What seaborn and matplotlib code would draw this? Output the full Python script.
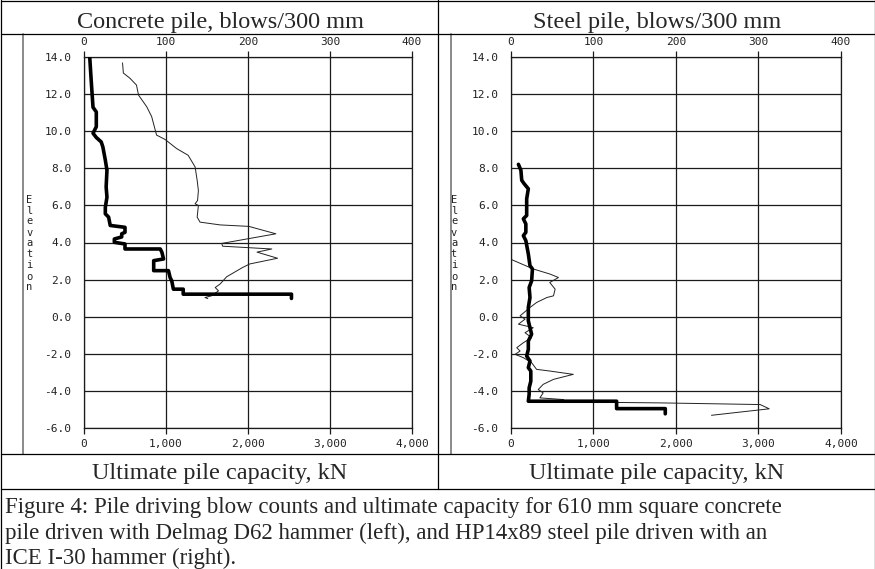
"""
Pile driving records - blow counts and ultimate capacity vs elevation.
Two panels laid out as a table (header row, charts, label row, caption).
"""

import matplotlib
matplotlib.use('Agg')
import matplotlib.pyplot as plt
from matplotlib.lines import Line2D
import pandas as pd
import seaborn as sns

# ==========================================
# 1. DATA
# ==========================================
# Concrete pile: blow counts (blows/300 mm) vs elevation
conc_blows = [7, 9, 11, 15, 15, 11, 15, 21, 23, 26, 28, 27, 28, 26, 26, 30, 32,
              50, 50, 46, 46, 37, 37, 50, 50, 93, 95, 97, 85, 85, 103, 105, 107,
              109, 121, 121, 253, 253]
conc_blow_elev = [14.0, 12.6, 11.3, 11.05, 10.25, 9.9, 9.67, 9.43, 9.16, 8.45, 7.9,
                  7.0, 6.45, 5.9, 5.55, 5.37, 4.92, 4.82, 4.55, 4.47, 4.3, 4.19,
                  4.01, 3.92, 3.65, 3.65, 3.47, 3.11, 3.02, 2.48, 2.48, 2.11, 1.93,
                  1.48, 1.48, 1.21, 1.21, 0.98]

# Concrete pile: ultimate capacity (kN) vs elevation
conc_cap = [470, 480, 560, 640, 665, 765, 825, 885, 990, 1130, 1270, 1355, 1380,
            1395, 1385, 1355, 1395, 1380, 1415, 1660, 2010, 2340, 1680, 1690, 2290,
            2110, 2360, 2020, 1930, 1740, 1660, 1600, 1640, 1555, 1475, 1510]
conc_cap_elev = [13.7, 13.15, 12.87, 12.5, 11.96, 11.33, 10.8, 9.8, 9.56, 9.07,
                 8.71, 8.08, 7.36, 6.8, 6.27, 6.09, 6.0, 5.37, 5.1, 4.95, 4.87,
                 4.47, 3.95, 3.8, 3.65, 3.48, 3.15, 2.84, 2.64, 2.15, 1.76, 1.57,
                 1.39, 1.12, 1.03, 0.97]

# Steel pile: blow counts vs elevation
steel_blows = [9, 12, 13, 16, 21, 19, 19, 15, 18, 18, 15, 18, 21, 23, 26, 25, 22,
               23, 21, 21, 23, 25, 21, 21, 19, 23, 21, 24, 24, 22, 22, 21, 128,
               128, 187, 187]
steel_blow_elev = [8.22, 7.9, 7.36, 7.17, 6.9, 6.36, 5.46, 5.28, 5.0, 4.55, 4.37,
                   4.1, 3.38, 2.75, 2.57, 1.93, 1.57, 1.03, 0.49, -0.23, -0.6,
                   -0.95, -1.32, -1.77, -2.13, -2.4, -2.76, -2.94, -3.49, -3.85,
                   -4.2, -4.57, -4.57, -4.97, -4.97, -5.25]

# Steel pile: ultimate capacity (kN) vs elevation
steel_cap = [10, 270, 470, 575, 470, 535, 515, 435, 310, 230, 110, 170, 90, 270,
             170, 250, 150, 70, 110, 50, 150, 250, 310, 470, 755, 515, 390, 330,
             390, 350, 635, 655, 1805, 3020, 3130, 2430]
steel_cap_elev = [3.07, 2.57, 2.3, 2.11, 1.84, 1.48, 1.12, 1.03, 0.76, 0.49, 0.04,
                  -0.14, -0.41, -0.6, -0.87, -1.14, -1.41, -1.68, -1.86, -2.04,
                  -2.22, -2.49, -2.85, -2.94, -3.12, -3.39, -3.66, -3.94, -4.12,
                  -4.39, -4.48, -4.61, -4.66, -4.75, -4.98, -5.33]

blow_ticks = [0, 100, 200, 300, 400]
cap_ticks = [0, 1000, 2000, 3000, 4000]
cap_labels = ['0', '1,000', '2,000', '3,000', '4,000']
elev_ticks = [-6, -4, -2, 0, 2, 4, 6, 8, 10, 12, 14]

headers = ['Concrete pile, blows/300 mm', 'Steel pile, blows/300 mm']
bottom_label = 'Ultimate pile capacity, kN'
caption = ['Figure 4: Pile driving blow counts and ultimate capacity for 610 mm square concrete',
           'pile driven with Delmag D62 hammer (left), and HP14x89 steel pile driven with an',
           'ICE I-30 hammer (right).']

# ==========================================
# 2. STYLE
# ==========================================
sns.set_style('white')
plt.rcParams['font.family'] = ['Liberation Serif', 'DejaVu Serif']

W, H = 875, 569
fig = plt.figure(figsize=(W / 100, H / 100), dpi=100)
fig.patch.set_facecolor('white')


def fx(px):
    return px / W


def fy(py):
    return 1 - py / H


MONO = 'DejaVu Sans Mono'
GRID = '#1a1a1a'
TICK_LEN = 4.5


def draw_panel(left_px, right_px, blows, blow_elev, cap, cap_elev, gray_px, label_px):
    top_px, bot_px = 57.3, 427.7
    ax = fig.add_axes([fx(left_px), fy(bot_px), (right_px - left_px) / W, (bot_px - top_px) / H])
    ax.set_xlim(0, 4000)
    ax.set_ylim(-6, 14)
    ax.set_facecolor('none')

    # capacity line (thin) on the bottom axis
    df_cap = pd.DataFrame({'cap': cap, 'elev': cap_elev})
    sns.lineplot(data=df_cap, x='cap', y='elev', sort=False, estimator=None,
                 color='#222222', linewidth=0.7, ax=ax)

    ax.set_xticks(cap_ticks)
    ax.set_xticklabels(cap_labels)
    ax.set_yticks(elev_ticks)
    ax.set_yticklabels([f'{v:.1f}' for v in elev_ticks])
    ax.set_xlabel('')
    ax.set_ylabel('')
    ax.grid(True, color=GRID, linewidth=0.9)
    ax.set_axisbelow(True)
    ax.tick_params(axis='both', direction='out', length=TICK_LEN, width=0.9, color=GRID,
                   labelsize=8, labelcolor='#222222')
    ax.tick_params(axis='x', pad=3.5)
    ax.tick_params(axis='y', pad=4.5)
    for lbl in ax.get_xticklabels() + ax.get_yticklabels():
        lbl.set_fontfamily(MONO)
    for sp in ax.spines.values():
        sp.set_color(GRID)
        sp.set_linewidth(0.9)

    # blow counts (thick) on the top axis
    top = ax.twiny()
    top.set_xlim(0, 400)
    df_blow = pd.DataFrame({'blows': blows, 'elev': blow_elev})
    sns.lineplot(data=df_blow, x='blows', y='elev', sort=False, estimator=None,
                 color='black', linewidth=2.6, ax=top)
    top.set_xticks(blow_ticks)
    top.set_xlabel('')
    top.tick_params(axis='x', direction='out', length=TICK_LEN, width=0.9, color=GRID,
                    labelsize=8, labelcolor='#222222', pad=3)
    for lbl in top.get_xticklabels():
        lbl.set_fontfamily(MONO)
    for sp in top.spines.values():
        sp.set_visible(False)

    # gray left border of the chart picture and the stacked "Elevation" label
    fig.add_artist(Line2D([fx(gray_px)] * 2, [fy(34), fy(454)], color='#8a8a8a', linewidth=1.4))
    for i, ch in enumerate('Elevation'):
        fig.text(fx(label_px), fy(199.5 + i * 11), ch, ha='center', va='center',
                 fontsize=7.5, family=MONO, color='#222222')


draw_panel(84, 412, conc_blows, conc_blow_elev, conc_cap, conc_cap_elev, 23, 29.5)
draw_panel(511, 841, steel_blows, steel_blow_elev, steel_cap, steel_cap_elev, 451, 454)

# ==========================================
# 3. TABLE FRAME AND TEXTS
# ==========================================
def hline(y, x0=0.5, x1=874.5):
    fig.add_artist(Line2D([fx(x0), fx(x1)], [fy(y)] * 2, color='black', linewidth=0.9))


def vline(x, y0, y1):
    fig.add_artist(Line2D([fx(x)] * 2, [fy(y0), fy(y1)], color='black', linewidth=0.9))


hline(0.5)
hline(34)
hline(454)
hline(489)
vline(0.5, 0, 569)
vline(874.5, 0, 569)
vline(438, 0, 489)

fig.text(fx(220), fy(28), headers[0], ha='center', va='baseline', fontsize=17.5)
fig.text(fx(657), fy(28), headers[1], ha='center', va='baseline', fontsize=17.5)
fig.text(fx(220), fy(479), bottom_label, ha='center', va='baseline', fontsize=17.5)
fig.text(fx(657), fy(479), bottom_label, ha='center', va='baseline', fontsize=17.5)

for i, line in enumerate(caption):
    fig.text(fx(5), fy(513 + i * 25.7), line, ha='left', va='baseline', fontsize=16.5)

fig.savefig('out.png', dpi=100)
